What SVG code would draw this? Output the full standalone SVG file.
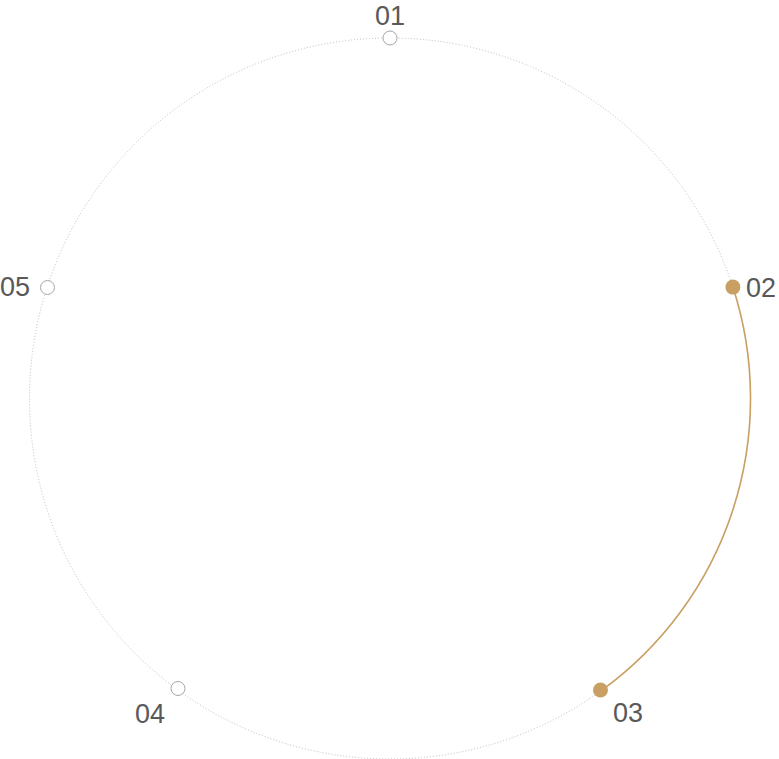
<svg xmlns="http://www.w3.org/2000/svg" width="779" height="759" viewBox="0 0 779 759">
<style>
.track{fill:none;stroke:#bdbdbd;stroke-width:1;stroke-dasharray:1 2}
.arc{fill:none;stroke:#c9a063;stroke-width:1.6}
.off{fill:#fff;stroke:#a6a6a6;stroke-width:1}
.on{fill:#c9a063;stroke:none}
.lbl{font-family:"Liberation Sans",Arial,sans-serif;font-size:27px;fill:#595959}
</style>
<rect width="779" height="759" fill="#fff"/>
<g id="connectors">
<circle class="track" cx="390" cy="398.5" r="360.5"/>
<path class="arc" d="M732.9 287.1 A360.5 360.5 0 0 1 601.9 690.1"/>
</g>
<g id="node-01"><circle class="off" cx="390" cy="38" r="7"/><text class="lbl" x="390" y="25" text-anchor="middle">01</text></g>
<g id="node-02"><circle class="on" cx="732.9" cy="287.1" r="7.5"/><text class="lbl" x="746" y="297">02</text></g>
<g id="node-03"><circle class="on" cx="600.5" cy="690" r="7.5"/><text class="lbl" x="613" y="722">03</text></g>
<g id="node-04"><circle class="off" cx="178" cy="688.5" r="7"/><text class="lbl" x="135" y="723">04</text></g>
<g id="node-05"><circle class="off" cx="47.5" cy="287.5" r="7"/><text class="lbl" x="0" y="296">05</text></g>
</svg>
